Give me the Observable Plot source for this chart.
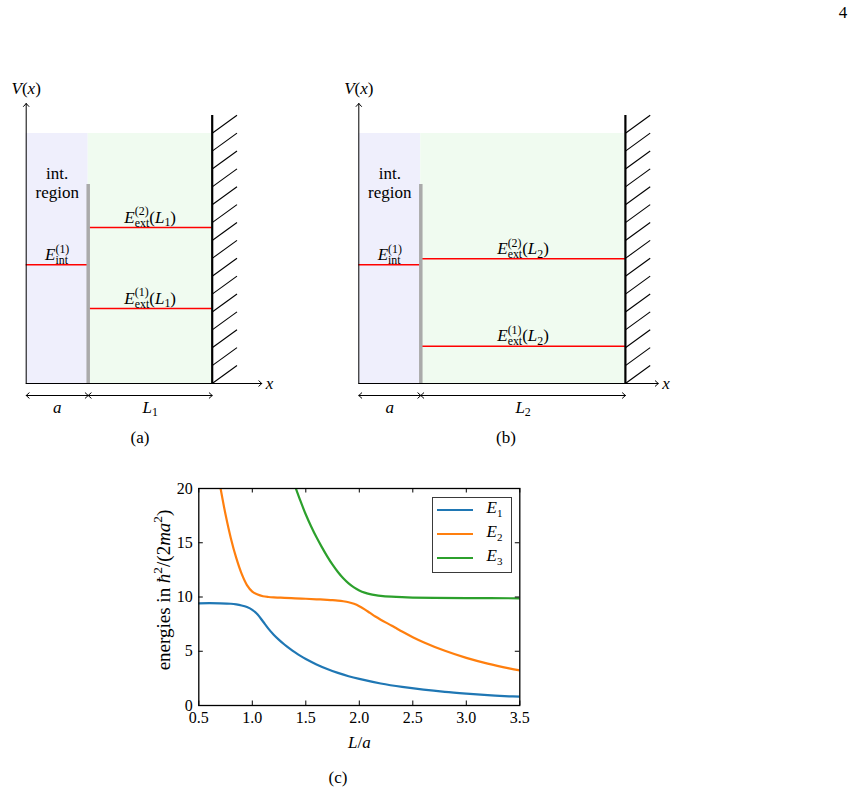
<!DOCTYPE html>
<html><head><meta charset="utf-8">
<script src="https://cdn.jsdelivr.net/npm/d3@7"></script>
<script src="https://cdn.jsdelivr.net/npm/@observablehq/plot@0.6"></script>
<style>
html,body{margin:0;padding:0;background:#fff;}
#page{position:relative;width:854px;height:793px;overflow:hidden;background:#fff;font-family:"Liberation Serif",serif;color:#000;}
.abs{position:absolute;}
.lbl{position:absolute;transform:translate(-50%,-50%);white-space:nowrap;}
.abs svg{overflow:visible;}
</style></head><body><div id="page"></div>
<script>
// ---------------- panel (c) data ----------------
const seriesNames = ["E1", "E2", "E3"];
const seriesColors = ["#1f77b4", "#ff7f0e", "#2ca02c"];
const L_E1 = [0.5,0.6,0.7,0.8,0.85,0.9,0.95,1.0,1.05,1.1,1.15,1.2,1.25,1.3,1.35,1.4,1.45,1.5,1.6,1.7,1.8,1.9,2.0,2.2,2.4,2.6,2.8,3.0,3.2,3.4,3.5];
const E1   = [9.42,9.43,9.42,9.38,9.32,9.22,9.07,8.82,8.38,7.74,7.09,6.53,6.05,5.62,5.24,4.89,4.57,4.29,3.79,3.37,3.01,2.70,2.45,2.03,1.71,1.46,1.26,1.10,0.96,0.85,0.81];
const L_E2 = [0.70,0.75,0.8,0.85,0.9,0.95,1.0,1.05,1.1,1.15,1.2,1.25,1.3,1.4,1.5,1.6,1.7,1.75,1.8,1.85,1.9,1.95,2.0,2.05,2.1,2.15,2.2,2.25,2.3,2.35,2.4,2.5,2.6,2.8,3.0,3.2,3.4,3.5];
const E2   = [20.2,17.6,15.4,13.6,12.15,11.1,10.5,10.22,10.07,10.0,9.96,9.94,9.92,9.88,9.84,9.79,9.74,9.71,9.67,9.61,9.52,9.37,9.15,8.86,8.53,8.2,7.91,7.64,7.38,7.1,6.82,6.3,5.84,5.04,4.39,3.86,3.42,3.23];
const L_E3 = [1.40,1.45,1.5,1.55,1.6,1.65,1.7,1.75,1.8,1.85,1.9,1.95,2.0,2.05,2.1,2.15,2.2,2.3,2.4,2.5,2.7,3.0,3.5];
const E3   = [20.2,18.85,17.6,16.5,15.5,14.6,13.75,12.98,12.3,11.72,11.25,10.88,10.6,10.4,10.27,10.18,10.11,10.03,9.98,9.95,9.92,9.9,9.88];
const xTicks = [0.5, 1.0, 1.5, 2.0, 2.5, 3.0, 3.5];
const yTicks = [0, 5, 10, 15, 20];
const xDomain = [0.5, 3.5];
const yDomain = [0, 20];
const xLabel = "L/a";
const yLabel = "energies in ħ2/(2ma2)";

// ---------------- panels (a),(b) schematic values ----------------
const wellWidth = 1;                 // a
const boxLengths = [2.0, 3.3];       // L1, L2 (in units of a)
const lengthLabels = ["L1", "L2"];
const intLevel = 4.75;
const intLabel = "E(1)int";
const extLevels = [[3.0, 6.24], [1.49, 4.99]];
const extLabels = [["E(1)ext(L1)", "E(2)ext(L1)"], ["E(1)ext(L2)", "E(2)ext(L2)"]];
const regionTop = 10;
const barrierTop = 7.96;
const wallTop = 10.72;
const axisTop = 11.2;
const xAxisEnds = [3.8, 4.83];
const dimLevel = -0.48;
const regionText = ["int.", "region"];
const regionTextY = [8.4, 7.64];
const captions = ["(a)", "(b)", "(c)"];

const FONT = "Liberation Serif";

// ---------------- rich text (math-like) ----------------
const NS = "http://www.w3.org/2000/svg";
const RICH = {
  "V(x)": [["V","i"],["("],["x","i"],[")"]],
  "x": [["x","i"]],
  "a": [["a","i"]],
  "L1": [["L","i"],["1","sub"]],
  "L2": [["L","i"],["2","sub"]],
  "E(1)int": [["E","i"],["(1)","stack","int"]],
  "L/a": [["L","i"],["/"],["a","i"]],
  "energies in ħ2/(2ma2)": [["energies in "],["ħ","i"],["2","sup"],["/(2"],["m","i"],["a","i"],["2","sup"],[")"]]
};
for (const n of ["1","2"]) for (const l of ["1","2"])
  RICH[`E(${n})ext(L${l})`] = [["E","i"],[`(${n})`,"stack","ext"],["("],["L","i"],[l,"sub"],[")"]];

function applyRich(root) {
  root.querySelectorAll("text").forEach(t => {
    const segs = RICH[t.textContent];
    if (!segs) return;
    const fs = parseFloat(getComputedStyle(t).fontSize) || 14;
    const small = fs * 0.7;
    t.textContent = "";
    let cur = 0, pendingDx = 0;
    const mk = (str, o) => {
      const s = document.createElementNS(NS, "tspan");
      s.textContent = str;
      if (o.italic) s.setAttribute("font-style", "italic");
      if (o.size) s.setAttribute("font-size", o.size);
      const off = o.off || 0;
      if (off - cur) s.setAttribute("dy", off - cur);
      cur = off;
      const dx = (o.dx || 0) + pendingDx;
      if (dx) s.setAttribute("dx", dx);
      pendingDx = 0;
      t.appendChild(s);
      return s;
    };
    for (const [str, kind, extra] of segs) {
      if (kind === "stack") {
        const sup = mk(str, {size: small, off: -fs * 0.42});
        const w1 = sup.getComputedTextLength();
        const sub = mk(extra, {size: small, off: fs * 0.24, dx: -w1});
        const w2 = sub.getComputedTextLength();
        if (w1 > w2) pendingDx = w1 - w2;
      } else if (kind === "sup") mk(str, {size: small, off: -fs * 0.42});
      else if (kind === "sub") mk(str, {size: small, off: fs * 0.22});
      else mk(str, {italic: kind === "i", off: 0});
    }
  });
}

const page = document.getElementById("page");
function place(node, left, top, w, h) {
  const d = document.createElement("div");
  d.className = "abs";
  d.style.left = left + "px"; d.style.top = top + "px";
  if (w) d.style.width = w + "px";
  if (h) d.style.height = h + "px";
  d.appendChild(node);
  page.appendChild(d);
  return d;
}
function label(html, cx, cy, size) {
  const d = document.createElement("div");
  d.className = "lbl";
  d.style.left = cx + "px"; d.style.top = cy + "px";
  d.style.fontSize = size + "px";
  d.innerHTML = html;
  page.appendChild(d);
}

// ---------------- diagrams ----------------
const pxPerX = 62, pxPerY = 25;
const hatchStep = 0.715, hatchRise = 0.72, hatchW = 0.4, hatchCount = 15;
function diagram(idx, svgW, svgH, ox, oy) {
  const a = wellWidth, L = boxLengths[idx], xw = a + L;
  const hatch = d3.range(hatchCount).map(k => k * hatchStep);
  // dimension arrows: each span drawn as two arrows from its middle to both ends
  const dims = [[0, a], [a, xw]].flatMap(([s, e]) => [{from: (s + e) / 2, to: s}, {from: (s + e) / 2, to: e}]);
  const arrowStyle = {headLength: 6, headAngle: 85, strokeWidth: 1, stroke: "#000"};
  return Plot.plot({
    width: svgW, height: svgH,
    marginLeft: 0, marginRight: 0, marginTop: 0, marginBottom: 0,
    x: {domain: [-ox / pxPerX, (svgW - ox) / pxPerX], axis: null},
    y: {domain: [-(svgH - oy) / pxPerY, oy / pxPerY], axis: null},
    style: {fontFamily: FONT, fontSize: "17px", background: "transparent", overflow: "visible"},
    marks: [
      Plot.rect([0], {x1: 0, x2: a, y1: 0, y2: regionTop, fill: "#efeffc"}),
      Plot.rect([0], {x1: a, x2: xw, y1: 0, y2: regionTop, fill: "#f0fbf0"}),
      Plot.ruleY([intLevel], {y: d => d, x1: 0, x2: a, stroke: "#ff0000", strokeWidth: 1.6}),
      Plot.ruleY(extLevels[idx], {y: d => d, x1: a, x2: xw, stroke: "#ff0000", strokeWidth: 1.6}),
      Plot.ruleX([a], {x: d => d, y1: 0, y2: barrierTop, stroke: "#aaaaaa", strokeWidth: 3.5}),
      Plot.link(hatch, {x1: xw, x2: xw + hatchW, y1: d => d, y2: d => d + hatchRise, stroke: "#000", strokeWidth: 1.1}),
      Plot.ruleX([xw], {x: d => d, y1: 0, y2: wallTop, stroke: "#000", strokeWidth: 2.2}),
      Plot.arrow([0], {x1: 0, y1: 0, x2: 0, y2: axisTop, ...arrowStyle}),
      Plot.arrow([0], {x1: 0, y1: 0, x2: xAxisEnds[idx], y2: 0, ...arrowStyle}),
      Plot.arrow(dims, {x1: "from", x2: "to", y1: dimLevel, y2: dimLevel, ...arrowStyle}),
      Plot.text(regionText, {text: d => d, x: a / 2, y: regionTextY, fontSize: 17}),
      Plot.text([intLabel], {text: d => d, x: a / 2, y: intLevel, lineAnchor: "bottom", dy: -5, fontSize: 17}),
      Plot.text(extLabels[idx], {text: d => d, x: a + L / 2, y: extLevels[idx], lineAnchor: "bottom", dy: -5, fontSize: 17}),
      Plot.text(["a", lengthLabels[idx]], {text: d => d, x: [a / 2, a + L / 2], y: dimLevel, lineAnchor: "bottom", dy: 17, fontSize: 17}),
      Plot.text(["V(x)"], {text: d => d, x: 0, y: axisTop, lineAnchor: "bottom", dy: -10, fontSize: 17}),
      Plot.text(["x"], {text: d => d, x: xAxisEnds[idx], y: 0, textAnchor: "start", dx: 4, fontSize: 17})
    ]
  });
}
const dA = diagram(0, 290, 350, 25.7, 313);
place(dA, 0, 70, 290, 350);
const dB = diagram(1, 350, 350, 28.3, 313);
place(dB, 330, 70, 350, 350);

// ---------------- panel (c) ----------------
const rows = [];
[[L_E1, E1], [L_E2, E2], [L_E3, E3]].forEach(([Ls, Es], i) =>
  Ls.forEach((L, j) => rows.push({L, E: Es[j], s: seriesNames[i]})));
const W = 390, H = 285, mL = 48.3, mT = 13, mR = 20.7, mB = 55;
const tickPx = 4.5;
const tx = tickPx * (xDomain[1] - xDomain[0]) / (W - mL - mR);
const ty = tickPx * (yDomain[1] - yDomain[0]) / (H - mT - mB);
const chart = Plot.plot({
  width: W, height: H, marginLeft: mL, marginTop: mT, marginRight: mR, marginBottom: mB,
  style: {fontFamily: FONT, fontSize: "16px", background: "transparent", overflow: "visible"},
  x: {domain: xDomain},
  y: {domain: yDomain},
  color: {domain: seriesNames, range: seriesColors},
  marks: [
    Plot.line(rows, {x: "L", y: "E", z: "s", stroke: "s", strokeWidth: 2.2, curve: "catmull-rom", clip: true}),
    Plot.ruleX(xTicks, {x: d => d, y1: yDomain[0], y2: yDomain[0] + ty, stroke: "#000"}),
    Plot.ruleX(xTicks, {x: d => d, y1: yDomain[1] - ty, y2: yDomain[1], stroke: "#000"}),
    Plot.ruleY(yTicks, {y: d => d, x1: xDomain[0], x2: xDomain[0] + tx, stroke: "#000"}),
    Plot.ruleY(yTicks, {y: d => d, x1: xDomain[1] - tx, x2: xDomain[1], stroke: "#000"}),
    Plot.frame({stroke: "#000", strokeWidth: 1.3}),
    Plot.axisX({ticks: xTicks, tickFormat: d3.format(".1f"), tickSize: 0, tickPadding: 6, label: null, fontSize: 16}),
    Plot.axisY({ticks: yTicks, tickSize: 0, tickPadding: 6, label: null, fontSize: 16}),
    Plot.text([xLabel], {text: d => d, frameAnchor: "bottom", textAnchor: "middle", lineAnchor: "middle", dy: 37, fontSize: 17}),
    Plot.text([yLabel], {text: d => d, frameAnchor: "left", textAnchor: "middle", lineAnchor: "middle", rotate: -90, dx: -35, dy: -7, fontSize: 19})
  ]
});
place(chart, 150, 475, W, H);

// legend
const leg = document.createElement("div");
leg.className = "abs";
Object.assign(leg.style, {left: "431.5px", top: "496.5px", width: "80px", height: "76px",
  border: "1.4px solid #3a3a3a", background: "#fff", boxSizing: "border-box"});
seriesNames.forEach((s, i) => {
  const cy = 12.8 + 24 * i;
  const ln = document.createElement("div");
  Object.assign(ln.style, {position: "absolute", left: "4px", width: "36px", height: "2.4px",
    top: (cy - 1.2) + "px", background: seriesColors[i]});
  leg.appendChild(ln);
  const t = document.createElement("div");
  Object.assign(t.style, {position: "absolute", left: "54px", top: cy + "px",
    transform: "translateY(-55%)", fontSize: "17px", whiteSpace: "nowrap", lineHeight: "1"});
  t.innerHTML = `<i>E</i><sub style="font-size:11px">${s.slice(1)}</sub>`;
  leg.appendChild(t);
});
page.appendChild(leg);

// captions and page number
label(captions[0], 140, 438, 17);
label(captions[1], 506, 438, 17);
label(captions[2], 338, 778, 17);
label("4", 843, 13, 17);

applyRich(page);
</script>
</body></html>
